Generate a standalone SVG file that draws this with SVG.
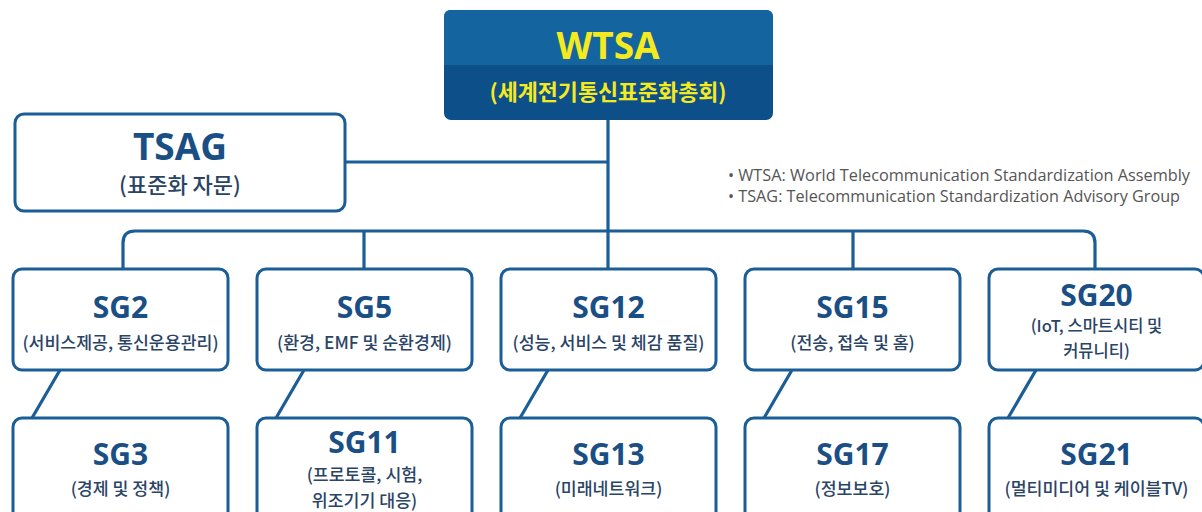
<svg xmlns="http://www.w3.org/2000/svg" width="1202" height="512" viewBox="0 0 1202 512">
<style>
.box{fill:#fff;stroke:#1b5e97;stroke-width:3}
.conn{fill:none;stroke:#1b5e97;stroke-width:3.2}
.t{font-family:"Open Sans","Noto Sans",sans-serif;font-weight:700;fill:#1a4f86;text-anchor:middle}
.s{font-family:"Noto Sans CJK KR","Noto Sans",sans-serif;font-weight:500;fill:#2a4466;text-anchor:middle;font-size:17.3px}
.lg{font-family:"Open Sans","Noto Sans",sans-serif;fill:#555;font-size:16.5px}
</style>
<rect width="1202" height="512" fill="#fff"/>
<g id="connectors">
<path class="conn" d="M608,120 V231"/>
<path class="conn" d="M345,162 H608"/>
<path class="conn" d="M123,269 V243 Q123,231 135,231 H1083 Q1095,231 1095,243 V269"/>
<path class="conn" d="M364,231 V269 M608,231 V269 M853,231 V269"/>
<path class="conn" d="M60,370 L32,418 M304,370 L276,418 M548,370 L520,418 M792,370 L764,418 M1036,370 L1008,418"/>
</g>
<g id="wtsa">
<rect x="444" y="10" width="329" height="110" rx="7" fill="#0c4f89"/>
<path d="M451,10 H766 Q773,10 773,17 V65 H444 V17 Q444,10 451,10 Z" fill="#1464a0"/>
<text x="608" y="59" text-anchor="middle" font-family="Open Sans,sans-serif" font-weight="700" font-size="37" fill="#f5ea1e">WTSA</text>
<text x="608" y="100" text-anchor="middle" font-family="Noto Sans CJK KR,sans-serif" font-weight="700" font-size="21.8" fill="#f5ea1e">(세계전기통신표준화총회)</text>
</g>
<g id="tsag">
<rect class="box" x="15" y="114" width="330" height="97" rx="9"/>
<text class="t" x="180" y="160" font-size="37">TSAG</text>
<text class="s" x="180" y="193" style="font-size:22px">(표준화 자문)</text>
</g>
<g id="legend">
<text class="lg" x="728" y="181" textLength="462" lengthAdjust="spacingAndGlyphs">• WTSA: World Telecommunication Standardization Assembly</text>
<text class="lg" x="728" y="202" textLength="452" lengthAdjust="spacingAndGlyphs">• TSAG: Telecommunication Standardization Advisory Group</text>
</g>
<g id="sg2">
<rect class="box" x="13" y="269" width="215" height="101" rx="9"/>
<text class="t" x="120.5" y="318" font-size="30">SG2</text>
<text class="s" x="120.5" y="349">(서비스제공, 통신운용관리)</text>
</g>
<g id="sg5">
<rect class="box" x="257" y="269" width="215" height="101" rx="9"/>
<text class="t" x="364.5" y="318" font-size="30">SG5</text>
<text class="s" x="364.5" y="349">(환경, EMF 및 순환경제)</text>
</g>
<g id="sg12">
<rect class="box" x="501" y="269" width="215" height="101" rx="9"/>
<text class="t" x="608.5" y="318" font-size="30">SG12</text>
<text class="s" x="608.5" y="349">(성능, 서비스 및 체감 품질)</text>
</g>
<g id="sg15">
<rect class="box" x="745" y="269" width="215" height="101" rx="9"/>
<text class="t" x="852.5" y="318" font-size="30">SG15</text>
<text class="s" x="852.5" y="349">(전송, 접속 및 홈)</text>
</g>
<g id="sg20">
<rect class="box" x="989" y="269" width="215" height="101" rx="9"/>
<text class="t" x="1096.5" y="305.5" font-size="30">SG20</text>
<text class="s" x="1096.5" y="332" style="font-size:16.5px">(IoT, 스마트시티 및</text>
<text class="s" x="1096.5" y="356.5" style="font-size:16.5px">커뮤니티)</text>
</g>
<g id="sg3">
<rect class="box" x="13" y="418" width="215" height="120" rx="9"/>
<text class="t" x="120.5" y="465" font-size="30">SG3</text>
<text class="s" x="120.5" y="495">(경제 및 정책)</text>
</g>
<g id="sg11">
<rect class="box" x="257" y="418" width="215" height="120" rx="9"/>
<text class="t" x="364.5" y="453" font-size="30">SG11</text>
<text class="s" x="364.5" y="481">(프로토콜, 시험,</text>
<text class="s" x="364.5" y="506.5">위조기기 대응)</text>
</g>
<g id="sg13">
<rect class="box" x="501" y="418" width="215" height="120" rx="9"/>
<text class="t" x="608.5" y="465" font-size="30">SG13</text>
<text class="s" x="608.5" y="495">(미래네트워크)</text>
</g>
<g id="sg17">
<rect class="box" x="745" y="418" width="215" height="120" rx="9"/>
<text class="t" x="852.5" y="465" font-size="30">SG17</text>
<text class="s" x="852.5" y="495">(정보보호)</text>
</g>
<g id="sg21">
<rect class="box" x="989" y="418" width="215" height="120" rx="9"/>
<text class="t" x="1096.5" y="465" font-size="30">SG21</text>
<text class="s" x="1096.5" y="495">(멀티미디어 및 케이블TV)</text>
</g>
</svg>
